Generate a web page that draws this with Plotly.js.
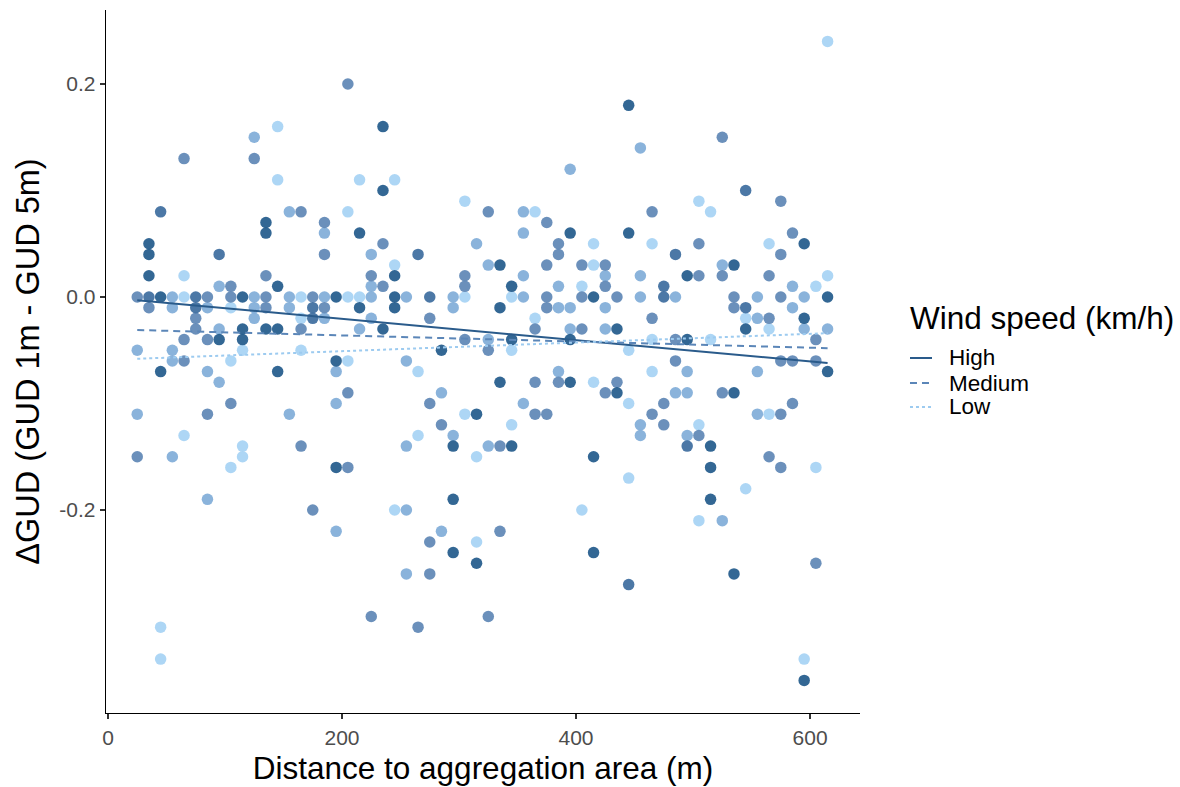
<!DOCTYPE html>
<html>
<head>
<meta charset="utf-8">
<script src="https://cdn.plot.ly/plotly-3.0.1.min.js"></script>
<style>
  html, body { margin: 0; padding: 0; background: #ffffff; }
  #chart { width: 1180px; height: 787px; }
</style>
</head>
<body>
<div id="chart"></div>
<script>
// ΔGUD observations by distance, grouped by point shade (darkest = strongest wind)
const darkPts = [
  [35,0.05],[35,0.04],[35,0.02],[45,0.00],[45,-0.07],[95,-0.04],
  [115,0.00],[115,-0.03],[115,-0.04],[135,0.07],[135,0.06],[135,-0.03],
  [145,0.01],[145,-0.03],[145,-0.07],[195,0.00],[195,-0.06],[195,-0.16],
  [215,0.06],[215,-0.01],[235,0.16],[235,0.10],[235,-0.03],
  [245,0.02],[245,0.00],[245,-0.01],[285,-0.05],
  [295,-0.14],[295,-0.19],[295,-0.24],[315,-0.11],[315,-0.25],
  [335,0.03],[335,-0.01],[335,-0.08],[345,0.01],[345,-0.04],[345,-0.14],
  [395,0.06],[395,-0.04],[395,-0.08],[415,0.00],[415,-0.15],[415,-0.24],
  [435,-0.03],[435,-0.09],[445,0.18],[445,0.06],[495,0.02],[495,-0.04],
  [515,-0.14],[515,-0.16],[515,-0.19],[535,0.03],[535,-0.09],[535,-0.26],
  [545,-0.03],[595,0.05],[595,-0.02],[595,-0.36],[615,0.00],[615,-0.07]
];
const darkMidPts = [
  [35,0.00],[45,0.08],[75,0.00],[75,-0.01],[95,0.04],[175,-0.01],[175,-0.02],
  [265,0.04],[275,0.00],[445,-0.27],[475,0.01],[475,0.00],[485,0.04],
  [495,-0.14],[545,0.10],[545,-0.01]
];
const midPts = [
  [25,0.00],[25,-0.15],[35,-0.01],[65,0.13],[65,-0.04],[65,-0.06],
  [75,-0.02],[75,-0.03],[85,0.00],[85,-0.04],[85,-0.11],
  [105,0.01],[105,0.00],[105,-0.10],[125,0.13],[135,0.02],[135,0.00],[135,-0.01],
  [165,0.08],[165,-0.03],[165,-0.14],[175,0.00],[175,-0.20],
  [185,0.07],[185,0.04],[185,-0.01],[205,0.20],[205,-0.09],[205,-0.16],
  [225,0.02],[225,-0.30],[235,0.05],[235,0.01],[265,-0.31],
  [275,-0.02],[275,-0.10],[275,-0.23],[275,-0.26],[285,-0.12],
  [305,0.02],[305,0.01],[305,-0.04],[325,0.08],[325,-0.05],[325,-0.30],
  [335,-0.14],[335,-0.22],[365,-0.03],[365,-0.08],[365,-0.11],
  [375,0.07],[375,0.03],[375,0.00],[375,-0.01],[375,-0.11],
  [385,0.05],[385,0.04],[385,-0.08],[405,0.03],[405,0.00],[405,-0.03],
  [425,0.03],[425,0.01],[425,-0.09],[435,0.00],[435,-0.08],
  [465,0.08],[465,-0.02],[465,-0.11],[475,-0.10],[475,-0.12],
  [485,-0.04],[485,-0.06],[505,0.05],[505,0.02],[505,-0.13],
  [525,0.15],[525,0.02],[525,-0.09],[535,0.00],[535,-0.01],
  [565,0.02],[565,-0.02],[565,-0.15],
  [575,0.09],[575,0.04],[575,0.00],[575,-0.06],[575,-0.11],[575,-0.16],
  [585,0.06],[585,-0.06],[585,-0.10],[605,-0.04],[605,-0.06],[605,-0.25]
];
const midLightPts = [
  [25,-0.05],[25,-0.11],[55,0.00],[55,-0.01],[55,-0.05],[55,-0.06],[55,-0.15],
  [85,-0.01],[85,-0.07],[85,-0.19],[95,0.01],[95,-0.03],[95,-0.08],
  [125,0.15],[125,0.00],[125,-0.01],[125,-0.02],
  [155,0.08],[155,0.00],[155,-0.01],[155,-0.11],
  [185,0.06],[185,0.00],[185,-0.02],[195,-0.07],[195,-0.10],[195,-0.22],
  [215,-0.03],[225,0.04],[225,0.01],[225,0.00],[225,-0.02],
  [255,0.00],[255,-0.06],[255,-0.14],[255,-0.20],[255,-0.26],
  [285,-0.09],[285,-0.22],[295,0.00],[295,-0.01],[295,-0.13],
  [315,0.05],[325,0.03],[325,-0.04],[325,-0.14],
  [355,0.08],[355,0.06],[355,0.02],[355,0.00],[355,-0.10],
  [385,0.01],[385,-0.01],[385,-0.07],[395,0.12],[395,-0.01],[395,-0.03],
  [425,0.02],[425,-0.01],[425,-0.03],
  [455,0.14],[455,0.02],[455,0.00],[455,-0.12],[455,-0.13],
  [485,0.00],[485,-0.09],[495,-0.07],[495,-0.09],[495,-0.13],
  [525,0.03],[525,-0.21],[555,0.00],[555,-0.02],[555,-0.07],[555,-0.11],
  [585,0.01],[585,-0.01],[595,0.00],[595,-0.03],[615,-0.03]
];
const lightPts = [
  [45,-0.31],[45,-0.34],[65,0.02],[65,0.00],[65,-0.13],
  [105,-0.01],[105,-0.06],[105,-0.16],[115,-0.05],[115,-0.14],[115,-0.15],
  [145,0.16],[145,0.11],[165,0.00],[165,-0.02],[165,-0.05],
  [205,0.08],[205,0.00],[205,-0.06],[215,0.11],[215,0.00],
  [245,0.11],[245,0.03],[245,-0.20],[265,-0.07],[265,-0.13],
  [305,0.09],[305,0.00],[305,-0.11],[315,-0.15],[315,-0.23],
  [345,0.00],[345,-0.05],[345,-0.12],[365,0.08],[365,-0.02],
  [405,0.01],[405,-0.20],[415,0.05],[415,0.03],[415,-0.08],
  [445,-0.05],[445,-0.10],[445,-0.17],[465,0.05],[465,-0.04],[465,-0.07],
  [505,0.09],[505,-0.12],[505,-0.21],[515,0.08],[515,-0.04],
  [545,-0.02],[545,-0.18],[565,0.05],[565,-0.03],[565,-0.11],
  [595,-0.34],[605,0.01],[605,-0.16],[615,0.24],[615,0.02]
];

// Linear fits per wind-speed class, evaluated at the ends of the distance range
const trendX = [25, 615];
const highFit = [-0.003, -0.062];
const mediumFit = [-0.031, -0.048];
const lowFit = [-0.058, -0.034];

const seriesNames = ['High', 'Medium', 'Low'];
const seriesColors = ['#2a5b8b', '#5b86b8', '#9dcbf0'];
const seriesDash = ['solid', '7px,5px', '3px,3px'];
const xTickVals = [0, 200, 400, 600];
const xTickText = ['0', '200', '400', '600'];
const yTickVals = [-0.2, 0.0, 0.2];
const yTickText = ['-0.2', '0.0', '0.2'];

const FONT = 'Liberation Sans, Arial, sans-serif';

function pointTrace(pts, color) {
  return {
    type: 'scatter', mode: 'markers',
    x: pts.map(p => p[0]), y: pts.map(p => p[1]),
    marker: { color: color, size: 11.5, opacity: 0.92, line: { width: 0 } },
    showlegend: false, hoverinfo: 'x+y'
  };
}

function fitTrace(i, ys) {
  return {
    type: 'scatter', mode: 'lines', name: seriesNames[i],
    x: trendX, y: ys,
    line: { color: seriesColors[i], width: 2, dash: seriesDash[i] },
    showlegend: false
  };
}

const data = [
  pointTrace(lightPts, '#a6d3f4'),
  pointTrace(midLightPts, '#80acd8'),
  pointTrace(midPts, '#5e87b5'),
  pointTrace(darkMidPts, '#3d6c9e'),
  pointTrace(darkPts, '#225a8b'),
  fitTrace(0, highFit),
  fitTrace(1, mediumFit),
  fitTrace(2, lowFit)
];

// Key block to the right of the panel: title, then one line sample + label per class
const keyLeft = 1.0663, keyRight = 1.0955, keyLabelX = 1.1167;
const keyRows = [0.505, 0.4694, 0.4353];
const shapes = seriesNames.map((n, i) => ({
  type: 'line', xref: 'paper', yref: 'paper',
  x0: keyLeft, x1: keyRight, y0: keyRows[i], y1: keyRows[i],
  line: { color: seriesColors[i], width: 2, dash: seriesDash[i] }
}));
const annotations = [
  { xref: 'paper', yref: 'paper', x: 1.0637, y: 0.5619, xanchor: 'left', yanchor: 'middle',
    text: 'Wind speed (km/h)', showarrow: false,
    font: { family: FONT, size: 31.5, color: '#000000' } }
].concat(seriesNames.map((n, i) => ({
  xref: 'paper', yref: 'paper', x: keyLabelX, y: keyRows[i], xanchor: 'left', yanchor: 'middle',
  text: n, showarrow: false, borderpad: 0,
  font: { family: FONT, size: 22.5, color: '#000000' }
})));

const layout = {
  width: 1180, height: 787,
  margin: { l: 106, r: 320, t: 10, b: 74, pad: 0 },
  paper_bgcolor: '#ffffff', plot_bgcolor: '#ffffff',
  font: { family: FONT, color: '#000000' },
  showlegend: false,
  xaxis: {
    range: [-1.7, 642.7], showgrid: false, zeroline: false,
    showline: true, linecolor: '#000000', linewidth: 1.3,
    ticks: 'outside', ticklen: 5, tickwidth: 1.1, tickcolor: '#333333',
    tickvals: xTickVals, ticktext: xTickText,
    tickfont: { family: FONT, size: 21, color: '#4d4d4d' },
    title: { text: 'Distance to aggregation area (m)', font: { family: FONT, size: 31.5, color: '#000000' }, standoff: 9 },
    automargin: false
  },
  yaxis: {
    range: [-0.3906, 0.2695], showgrid: false, zeroline: false,
    showline: true, linecolor: '#000000', linewidth: 1.3,
    ticks: 'outside', ticklen: 5, tickwidth: 1.1, tickcolor: '#333333',
    tickvals: yTickVals, ticktext: yTickText,
    tickfont: { family: FONT, size: 21, color: '#4d4d4d' },
    title: { text: 'ΔGUD (GUD 1m - GUD 5m)', font: { family: FONT, size: 32.5, color: '#000000' }, standoff: 10 },
    automargin: false
  },
  shapes: shapes,
  annotations: annotations
};

Plotly.newPlot('chart', data, layout, { displayModeBar: false, staticPlot: true });
</script>
</body>
</html>
